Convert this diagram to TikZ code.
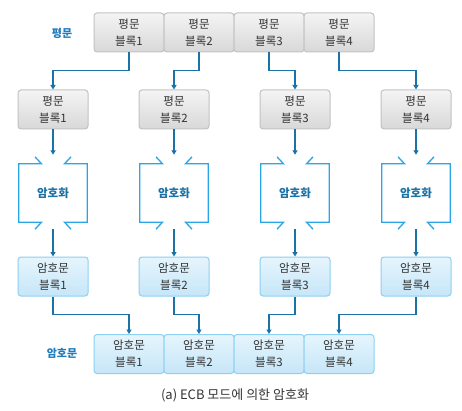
\documentclass[tikz,border=0pt]{standalone}
\usepackage{fontspec}
\setmainfont{Noto Sans CJK KR}
\usetikzlibrary{arrows.meta,calc}
\definecolor{connblue}{HTML}{1A72A6}
\definecolor{encblue}{HTML}{2AA5E5}
\definecolor{lblblue}{HTML}{1E7CBF}
\definecolor{grayedge}{HTML}{C2C2C2}
\definecolor{graytop}{HTML}{F4F4F4}
\definecolor{graybot}{HTML}{D8D8D8}
\definecolor{blueedge}{HTML}{8ED0F2}
\definecolor{bluetop}{HTML}{E6F5FD}
\definecolor{bluebot}{HTML}{C6E6F8}
\definecolor{txt}{HTML}{333333}
\tikzset{
  plainbox/.style={draw=grayedge, line width=1pt, rounded corners=3pt, top color=graytop, bottom color=graybot,
    minimum width=70pt, minimum height=39pt, inner sep=0pt, align=center, text=txt,
    font=\fontsize{11.5}{17}\selectfont},
  cipherbox/.style={plainbox, draw=blueedge, top color=bluetop, bottom color=bluebot},
  encbox/.style={minimum width=68pt, minimum height=58pt, inner sep=0pt, text=connblue,
    font=\bfseries\fontsize{11.5}{13}\selectfont},
  encline/.style={draw=encblue, line width=1.3pt},
  conn/.style={draw=connblue, line width=1.6pt, -{Triangle[width=5pt,length=4.5pt]}},
  lbl/.style={text=lblblue, font=\bfseries\fontsize{11}{13}\selectfont},
}
\begin{document}
\begin{tikzpicture}[x=1pt,y=-1pt]
\useasboundingbox (0,0) rectangle (462,411);
% top plaintext row
\foreach \i/\x in {1/129,2/199,3/269,4/339}{
  \node[plainbox] (p\i) at (\x,32.5) {평문\\블록\i};
}
% second row
\foreach \i/\x in {1/53,2/174,3/295,4/416}{
  \node[plainbox] (a\i) at (\x,109.5) {평문\\블록\i};
  \node[encbox] (e\i) at (\x,193) {암호화};
  \node[cipherbox] (c\i) at (\x,276.5) {암호문\\블록\i};
}
% bottom cipher row
\foreach \i/\x in {1/129,2/199,3/269,4/339}{
  \node[cipherbox] (b\i) at (\x,354) {암호문\\블록\i};
}
% encryption outlines
\foreach \i in {1,2,3,4}{
  \draw[encline] ([xshift=-18pt,yshift=7pt]e\i.north) -- ([xshift=-11.5pt]e\i.north) -- (e\i.north west)
     -- (e\i.south west) -- ([xshift=-11.5pt]e\i.south) -- ([xshift=-18pt,yshift=-7pt]e\i.south);
  \draw[encline] ([xshift=18pt,yshift=7pt]e\i.north) -- ([xshift=11.5pt]e\i.north) -- (e\i.north east)
     -- (e\i.south east) -- ([xshift=11.5pt]e\i.south) -- ([xshift=18pt,yshift=-7pt]e\i.south);
  \draw[conn] (a\i.south) -- ([yshift=9pt]e\i.north);
  \draw[conn] ([yshift=-7pt]e\i.south) -- (c\i.north);
  \draw[conn] (p\i.south) -- ++(0,18) -| (a\i.north);
  \draw[conn] (c\i.south) -- ++(0,18) -| (b\i.north);
}
\node[lbl] (lp) at (62,33) {평문};
\node[lbl] (lc) at (62,353) {암호문};
\node[text=txt, font=\fontsize{13}{15}\selectfont] (cap) at (235,395) {(a) ECB 모드에 의한 암호화};
\end{tikzpicture}
\end{document}
